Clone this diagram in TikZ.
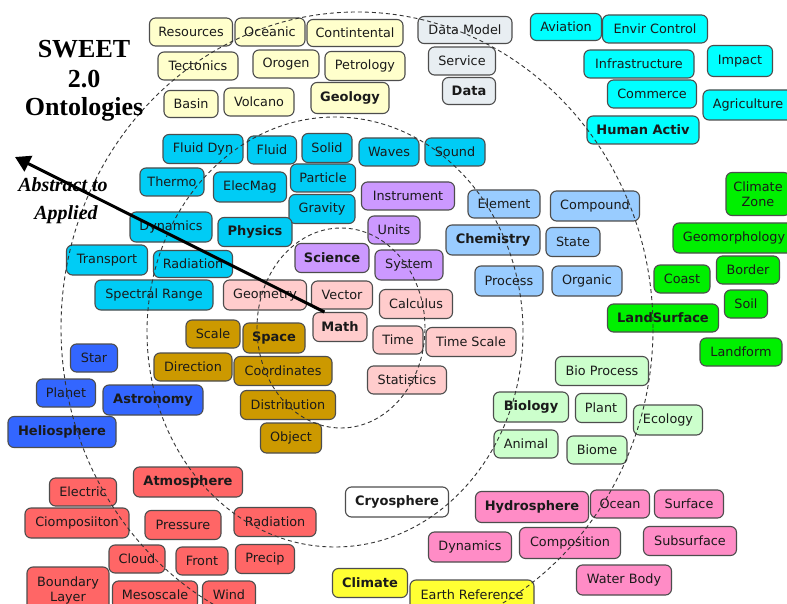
\documentclass[tikz,border=0pt]{standalone}
\usepackage{fontspec}
\setmainfont{DejaVu Sans}
\newfontfamily\serifttl{Liberation Serif}
\usetikzlibrary{arrows.meta}
\definecolor{cgeo}{HTML}{FFFFCC}
\definecolor{cdata}{HTML}{E8EEF2}
\definecolor{chuman}{HTML}{00FFFF}
\definecolor{cphys}{HTML}{00CCF5}
\definecolor{csci}{HTML}{CC99FF}
\definecolor{cmath}{HTML}{FFCCCC}
\definecolor{cchem}{HTML}{99CCFF}
\definecolor{cland}{HTML}{00F000}
\definecolor{cbio}{HTML}{CCFFCC}
\definecolor{cspace}{HTML}{CC9900}
\definecolor{castro}{HTML}{3366FF}
\definecolor{catm}{HTML}{FF6666}
\definecolor{chydro}{HTML}{FF8CC6}
\definecolor{cclim}{HTML}{FFFF33}
\definecolor{bordergray}{HTML}{4D4D4D}
\definecolor{txt}{HTML}{1A1A1A}
\definecolor{dashgray}{HTML}{333333}
\tikzset{
  box/.style={draw=bordergray, line width=1.1pt, rounded corners=6pt, inner xsep=2pt, inner ysep=0pt,
    text=txt, font=\fontsize{12.8}{14}\selectfont, align=center},
  bbox/.style={box, font=\bfseries\fontsize{13}{14}\selectfont},
  sz/.style 2 args={minimum width=#1pt, minimum height=#2pt},
  ring/.style={draw=dashgray, line width=0.9pt, dash pattern=on 4pt off 3pt},
  ttl/.style={font=\serifttl\bfseries\fontsize{26}{29}\selectfont, text=black, inner sep=0pt, anchor=base},
  sub/.style={font=\serifttl\bfseries\itshape\fontsize{20}{24}\selectfont, text=black, inner sep=0pt, anchor=base},
  bigarrow/.style={line width=3pt, -{Triangle[length=15pt,width=17pt]}}
}
\begin{document}
\begin{tikzpicture}[x=1pt,y=-1pt]
\useasboundingbox (0,0) rectangle (787,604);
\clip (0,0) rectangle (787,604);
\fill[white] (0,0) rectangle (787,604);

% Geology
\node[box,fill=cgeo,sz={83}{28}] (resources) at (191,32) {Resources};
\node[box,fill=cgeo,sz={70}{28}] (oceanic) at (270,32) {Oceanic};
\node[box,fill=cgeo,sz={96}{27}] (contintental) at (355,33) {Contintental};
\node[box,fill=cgeo,sz={80}{28}] (tectonics) at (198,66) {Tectonics};
\node[box,fill=cgeo,sz={66}{28}] (orogen) at (286,64) {Orogen};
\node[box,fill=cgeo,sz={80}{29}] (petrology) at (365,66) {Petrology};
\node[box,fill=cgeo,sz={54}{27}] (basin) at (191,104) {Basin};
\node[box,fill=cgeo,sz={70}{28}] (volcano) at (259,102) {Volcano};
\node[bbox,fill=cgeo,sz={78}{31}] (geology) at (350,98) {Geology};

% Data
\node[box,fill=cdata,sz={94}{27}] (datamodel) at (465,30) {Data Model};
\node[box,fill=cdata,sz={67}{28}] (service) at (462,61) {Service};
\node[bbox,fill=cdata,sz={53}{27}] (data) at (469,91) {Data};

% Human activities
\node[box,fill=chuman,sz={71}{27}] (aviation) at (566,27) {Aviation};
\node[box,fill=chuman,sz={105}{28}] (envircontrol) at (655,29) {Envir Control};
\node[box,fill=chuman,sz={110}{28}] (infrastructure) at (639,64) {Infrastructure};
\node[box,fill=chuman,sz={65}{31}] (impact) at (740,61) {Impact};
\node[box,fill=chuman,sz={89}{28}] (commerce) at (652,94) {Commerce};
\node[box,fill=chuman,sz={90}{30}] (agriculture) at (748,105) {Agriculture};
\node[bbox,fill=chuman,sz={112}{28}] (humanactiv) at (643,130) {Human Activ};

% Physics
\node[box,fill=cphys,sz={80}{29}] (fluiddyn) at (203,149) {Fluid Dyn};
\node[box,fill=cphys,sz={49}{28}] (fluid) at (272,150) {Fluid};
\node[box,fill=cphys,sz={50}{29}] (solid) at (327,148) {Solid};
\node[box,fill=cphys,sz={60}{28}] (waves) at (389,152) {Waves};
\node[box,fill=cphys,sz={60}{28}] (sound) at (455,152) {Sound};
\node[box,fill=cphys,sz={64}{28}] (thermo) at (172,182) {Thermo};
\node[box,fill=cphys,sz={73}{30}] (elecmag) at (250,187) {ElecMag};
\node[box,fill=cphys,sz={65}{28}] (particle) at (323,178) {Particle};
\node[box,fill=cphys,sz={66}{29}] (gravity) at (322,209) {Gravity};
\node[box,fill=cphys,sz={82}{30}] (dynamics) at (171,227) {Dynamics};
\node[bbox,fill=cphys,sz={74}{29}] (physics) at (255,232) {Physics};
\node[box,fill=cphys,sz={81}{30}] (transport) at (107,260) {Transport};
\node[box,fill=cphys,sz={79}{27}] (radiation) at (193,264) {Radiation};
\node[box,fill=cphys,sz={118}{30}] (spectral) at (154,295) {Spectral Range};

% Science
\node[box,fill=csci,sz={93}{28}] (instrument) at (408,196) {Instrument};
\node[box,fill=csci,sz={52}{28}] (units) at (394,230) {Units};
\node[bbox,fill=csci,sz={74}{29}] (science) at (332,258) {Science};
\node[box,fill=csci,sz={68}{30}] (system) at (409,265) {System};

% Math
\node[box,fill=cmath,sz={83}{30}] (geometry) at (265,295) {Geometry};
\node[box,fill=cmath,sz={61}{28}] (vector) at (342,295) {Vector};
\node[bbox,fill=cmath,sz={54}{29}] (math) at (340,327) {Math};
\node[box,fill=cmath,sz={73}{29}] (calculus) at (416,304) {Calculus};
\node[box,fill=cmath,sz={50}{28}] (time) at (398,340) {Time};
\node[box,fill=cmath,sz={90}{29}] (timescale) at (471,342) {Time Scale};
\node[box,fill=cmath,sz={79}{28}] (statistics) at (407,380) {Statistics};

% Chemistry
\node[box,fill=cchem,sz={72}{28}] (element) at (504,204) {Element};
\node[box,fill=cchem,sz={89}{30}] (compound) at (595,206) {Compound};
\node[bbox,fill=cchem,sz={94}{30}] (chemistry) at (493,240) {Chemistry};
\node[box,fill=cchem,sz={54}{29}] (state) at (573,242) {State};
\node[box,fill=cchem,sz={68}{30}] (process) at (509,281) {Process};
\node[box,fill=cchem,sz={70}{30}] (organic) at (587,281) {Organic};

% Land surface
\node[box,fill=cland,sz={64}{43},font=\fontsize{12.8}{15}\selectfont] (climatezone) at (758,194) {Climate\\Zone};
\node[box,fill=cland,sz={122}{30}] (geomorphology) at (734,238) {Geomorphology};
\node[box,fill=cland,sz={56}{28}] (coast) at (682,279) {Coast};
\node[box,fill=cland,sz={63}{28}] (border) at (748,270) {Border};
\node[box,fill=cland,sz={43}{28}] (soil) at (746,304) {Soil};
\node[bbox,fill=cland,sz={111}{28}] (landsurface) at (663,318) {LandSurface};
\node[box,fill=cland,sz={82}{28}] (landform) at (741,352) {Landform};

% Biology
\node[box,fill=cbio,sz={93}{29}] (bioprocess) at (602,371) {Bio Process};
\node[bbox,fill=cbio,sz={75}{30}] (biology) at (531,407) {Biology};
\node[box,fill=cbio,sz={51}{29}] (plant) at (601,408) {Plant};
\node[box,fill=cbio,sz={69}{30}] (ecology) at (668,420) {Ecology};
\node[box,fill=cbio,sz={64}{28}] (animal) at (526,444) {Animal};
\node[box,fill=cbio,sz={60}{28}] (biome) at (597,450) {Biome};

% Space
\node[box,fill=cspace,sz={54}{28}] (scale) at (213,334) {Scale};
\node[bbox,fill=cspace,sz={62}{30}] (space) at (274,338) {Space};
\node[box,fill=cspace,sz={78}{28}] (direction) at (193,367) {Direction};
\node[box,fill=cspace,sz={98}{29}] (coordinates) at (283,371) {Coordinates};
\node[box,fill=cspace,sz={95}{29}] (distribution) at (288,405) {Distribution};
\node[box,fill=cspace,sz={61}{30}] (object) at (291,438) {Object};

% Astronomy
\node[box,fill=castro,sz={47}{28}] (star) at (94,358) {Star};
\node[box,fill=castro,sz={59}{28}] (planet) at (66,393) {Planet};
\node[bbox,fill=castro,sz={100}{30}] (astronomy) at (153,400) {Astronomy};
\node[bbox,fill=castro,sz={108}{31}] (heliosphere) at (62,432) {Heliosphere};

% Atmosphere
\node[bbox,fill=catm,sz={109}{30}] (atmosphere) at (188,482) {Atmosphere};
\node[box,fill=catm,sz={67}{28}] (electric) at (83,492) {Electric};
\node[box,fill=catm,sz={104}{30}] (ciomposiiton) at (77,523) {Ciomposiiton};
\node[box,fill=catm,sz={76}{29}] (pressure) at (183,525) {Pressure};
\node[box,fill=catm,sz={82}{29}] (radiationatm) at (275,522) {Radiation};
\node[box,fill=catm,sz={56}{28}] (cloud) at (137,559) {Cloud};
\node[box,fill=catm,sz={52}{28}] (front) at (202,561) {Front};
\node[box,fill=catm,sz={59}{29}] (precip) at (265,559) {Precip};
\node[box,fill=catm,sz={82}{46},font=\fontsize{12.8}{15}\selectfont] (boundarylayer) at (68,590) {Boundary\\Layer};
\node[box,fill=catm,sz={85}{28}] (mesoscale) at (155,595) {Mesoscale};
\node[box,fill=catm,sz={53}{28}] (wind) at (229,595) {Wind};

% Cryosphere
\node[bbox,fill=white,sz={103}{30}] (cryosphere) at (397,502) {Cryosphere};

% Hydrosphere
\node[bbox,fill=chydro,sz={113}{31}] (hydrosphere) at (532,507) {Hydrosphere};
\node[box,fill=chydro,sz={59}{28}] (ocean) at (620,504) {Ocean};
\node[box,fill=chydro,sz={69}{28}] (surface) at (689,504) {Surface};
\node[box,fill=chydro,sz={83}{30}] (dynamicsh) at (470,547) {Dynamics};
\node[box,fill=chydro,sz={101}{31}] (composition) at (570,543) {Composition};
\node[box,fill=chydro,sz={93}{29}] (subsurface) at (690,541) {Subsurface};
\node[box,fill=chydro,sz={95}{30}] (waterbody) at (624,580) {Water Body};

% Climate
\node[bbox,fill=cclim,sz={75}{29}] (climate) at (370,583) {Climate};
\node[box,fill=cclim,sz={124}{30}] (earthref) at (472,595) {Earth Reference};

% Dashed rings
\draw[ring] (341,328) ellipse [x radius=84pt, y radius=100pt];
\draw[ring] (335,332) ellipse [x radius=188pt, y radius=215pt];
\draw[ring] (357,328) ellipse [x radius=296pt, y radius=316pt];

% Titles
\node[ttl] (title1) at (84,58) {SWEET};
\node[ttl] (title2) at (84,88) {2.0};
\node[ttl] (title3) at (84,116) {Ontologies};
\node[sub] (abs1) at (63,192) {Abstract to};
\node[sub] (abs2) at (66,219) {Applied};

% Arrow
\coordinate (tip) at (15,157);
\draw[bigarrow] ([xshift=12pt]math.north west) -- (tip);
\end{tikzpicture}
\end{document}
